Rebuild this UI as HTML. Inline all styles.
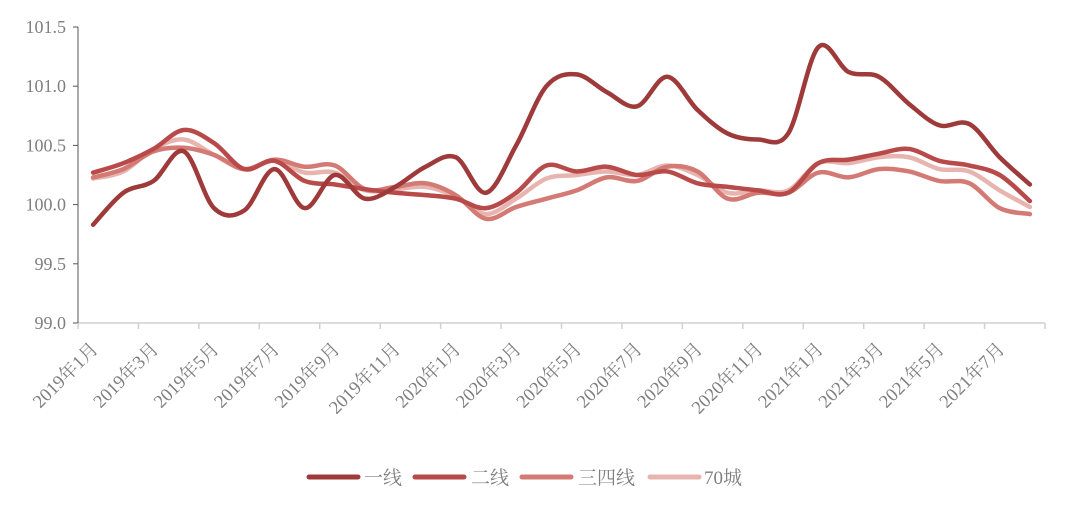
<!DOCTYPE html>
<html><head><meta charset="utf-8"><style>
body{margin:0;background:#fff;width:1068px;height:504px;overflow:hidden}
text{font-family:"Liberation Serif","Noto Serif CJK SC",serif;fill:#7f7f7f}
</style></head><body>
<svg id="s" width="1068" height="504" xmlns="http://www.w3.org/2000/svg">
<g id="ax"></g><g id="ln"></g>
<g font-size="19">
<line x1="309" y1="477" x2="358" y2="477" stroke="#9e3a3a" stroke-width="5" stroke-linecap="round"/><text x="364" y="484">一线</text>
<line x1="415" y1="477" x2="464" y2="477" stroke="#b84a4a" stroke-width="5" stroke-linecap="round"/><text x="471" y="484">二线</text>
<line x1="522" y1="477" x2="571" y2="477" stroke="#d47a75" stroke-width="5" stroke-linecap="round"/><text x="578" y="484">三四线</text>
<line x1="650" y1="477" x2="699" y2="477" stroke="#e8b4b0" stroke-width="5" stroke-linecap="round"/><text x="704" y="484">70城</text>
</g>
</svg>
<script>
const NS="http://www.w3.org/2000/svg";
function el(t,a,p,txt){const e=document.createElementNS(NS,t);for(const k in a)e.setAttribute(k,a[k]);if(txt)e.textContent=txt;document.getElementById(p).appendChild(e);}
const y=v=>323-(v-99)*118.4, x0=78, cw=967/32, x=i=>x0+cw*(i+0.5);
el("line",{x1:78,y1:323,x2:1045,y2:323,stroke:"#d0d0d0","stroke-width":1.5},"ax");
el("line",{x1:78,y1:27,x2:78,y2:323,stroke:"#555","stroke-width":1},"ax");
[99.0,99.5,100.0,100.5,101.0,101.5].forEach(v=>{el("line",{x1:73,y1:y(v),x2:78,y2:y(v),stroke:"#555"},"ax");el("text",{x:66,y:y(v)+6,"text-anchor":"end","font-size":18},"ax",v.toFixed(1));});
for(let k=0;k<=16;k++){const xx=x0+cw*2*k;el("line",{x1:xx,y1:323,x2:xx,y2:329,stroke:"#d0d0d0","stroke-width":1.5},"ax");}
for(let k=0;k<16;k++){const m=k*2,yr=2019+Math.floor(m/12),mo=m%12+1;const xx=x(m)+6,yy=350;
el("text",{x:xx,y:yy,"text-anchor":"end","font-size":18.5,transform:`rotate(-45 ${xx} ${yy})`},"ax",`${yr}年${mo}月`);}
const S=[
["#e8b4b0",[100.22,100.28,100.47,100.55,100.42,100.3,100.37,100.27,100.27,100.12,100.13,100.15,100.07,99.92,100.05,100.22,100.25,100.28,100.25,100.33,100.25,100.1,100.12,100.12,100.35,100.35,100.4,100.4,100.3,100.28,100.12,99.98]],
["#d47a75",[100.23,100.3,100.45,100.48,100.42,100.3,100.38,100.32,100.33,100.13,100.15,100.18,100.08,99.88,99.98,100.05,100.12,100.23,100.2,100.32,100.28,100.05,100.1,100.1,100.27,100.23,100.3,100.28,100.2,100.18,99.97,99.92]],
["#b84a4a",[100.27,100.35,100.47,100.63,100.52,100.3,100.37,100.2,100.17,100.13,100.1,100.08,100.05,99.97,100.1,100.33,100.28,100.32,100.25,100.28,100.18,100.15,100.12,100.1,100.35,100.38,100.43,100.47,100.37,100.33,100.25,100.03]],
["#9e3a3a",[99.83,100.1,100.2,100.45,99.97,99.95,100.3,99.97,100.25,100.05,100.15,100.32,100.4,100.1,100.5,101.0,101.1,100.95,100.83,101.08,100.8,100.6,100.55,100.6,101.33,101.12,101.08,100.85,100.67,100.68,100.4,100.17]]];
S.forEach(([c,d])=>{const p=d.map((v,i)=>[x(i),y(v)]);let s=`M${p[0]}`;
for(let i=0;i<p.length-1;i++){const a=p[i-1]||p[i],b=p[i],q=p[i+1],r=p[i+2]||q;
s+=` C${b[0]+(q[0]-a[0])/6},${b[1]+(q[1]-a[1])/6} ${q[0]-(r[0]-b[0])/6},${q[1]-(r[1]-b[1])/6} ${q[0]},${q[1]}`;}
el("path",{d:s,fill:"none",stroke:c,"stroke-width":4.5,"stroke-linecap":"round"},"ln");});
</script>
</body></html>
